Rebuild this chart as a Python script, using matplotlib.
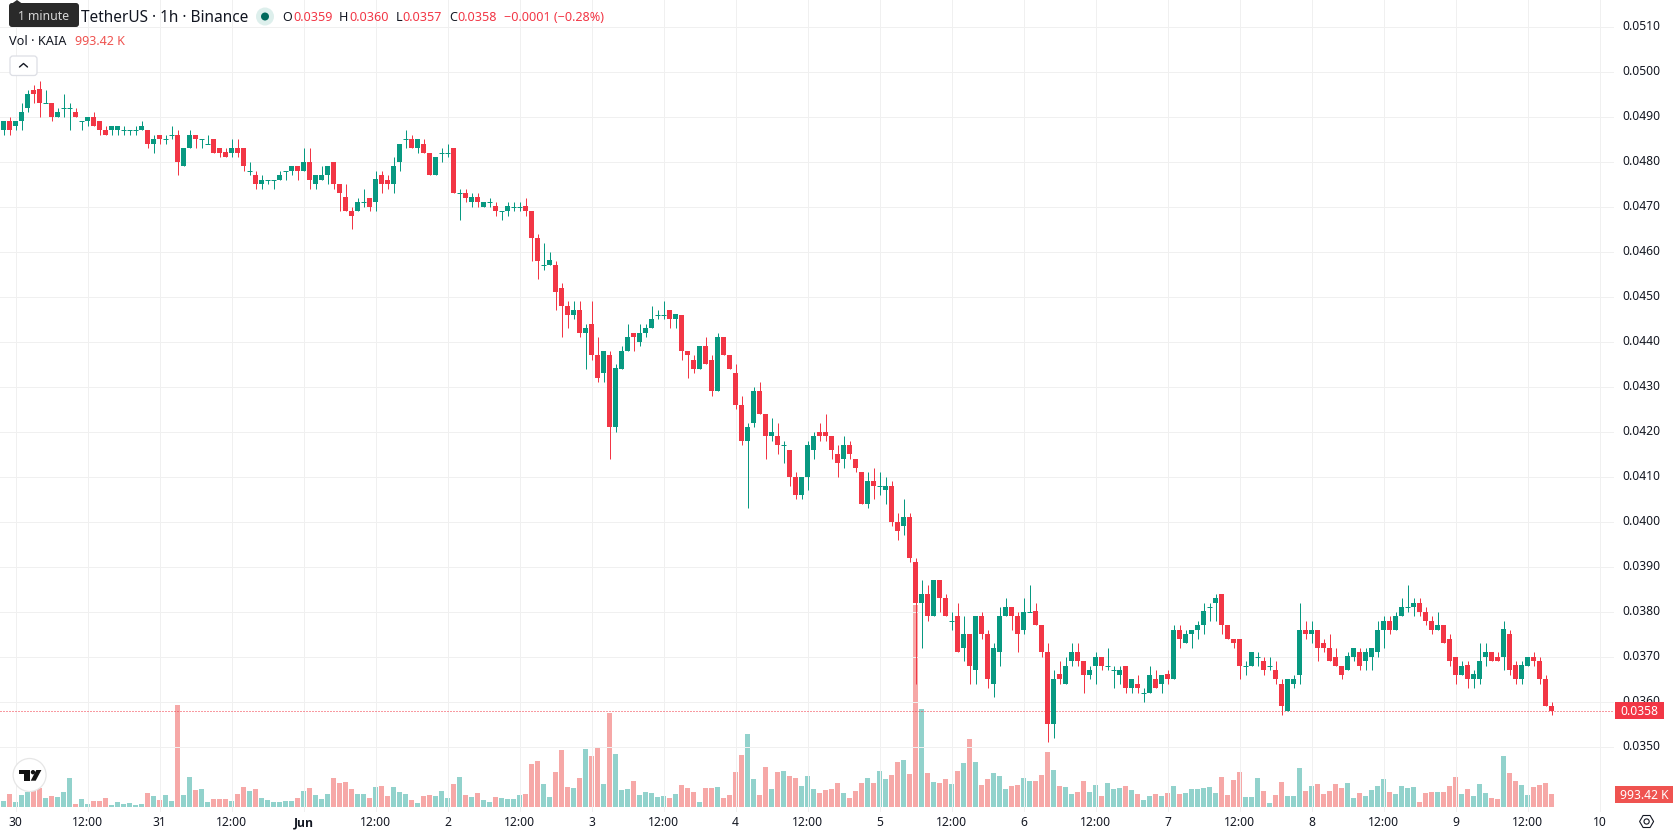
import matplotlib
matplotlib.use("Agg")
import matplotlib.pyplot as plt
from matplotlib.patches import Circle, FancyBboxPatch, Polygon, Rectangle

plt.rcParams["font.family"] = ["Noto Sans", "DejaVu Sans"]

# Hourly KAIA/USDT candles, prices in units of PRICE_TICK
PRICE_TICK = 0.0001
opens = [
    487,489,488,489,492,496,496,493,493,490, 492,492,491,489,489,490,489,487,487,487,
    487,487,487,487,487,484,486,485,486,486, 479,483,486,485,484,485,483,482,482,483,
    483,478,477,475,476,476,476,478,478,479, 478,480,475,476,477,480,475,472,469,469,
    471,472,471,477,476,475,480,485,485,483, 484,482,477,482,482,483,473,473,471,472,
    470,471,470,469,469,470,470,470,469,463, 457,457,457,452,448,446,447,442,444,437,
    433,437,421,434,438,442,440,442,443,446, 446,447,445,446,438,436,434,439,436,429,
    441,437,433,426,418,422,429,424,419,419, 417,416,410,406,410,416,420,420,419,415,
    414,417,414,411,404,409,408,407,408,400, 399,401,391,382,384,379,387,383,378,379,
    372,375,367,379,375,364,371,379,381,379, 376,380,380,377,371,355,366,364,369,371,
    369,366,368,370,368,367,366,368,363,364, 362,362,365,364,366,365,376,373,375,376,
    377,381,382,384,377,374,374,368,368,370, 369,368,367,364,358,364,366,376,375,376,
    373,372,370,368,367,370,371,369,370,371, 376,378,376,379,381,381,382,380,378,376,
    377,374,370,366,368,365,365,370,371,370, 370,375,368,365,368,370,369,365,359,
]
highs = [
    489,490,489,493,496,497,498,496,493,492, 495,493,492,489,490,491,489,488,488,488,
    488,487,488,489,487,486,486,486,488,487, 483,487,486,485,486,485,483,483,485,485,
    483,480,478,477,476,476,478,478,479,479, 483,483,477,479,479,480,475,475,470,472,
    474,472,478,478,477,481,484,487,486,485, 485,482,481,483,484,483,474,474,473,473,
    471,472,471,469,471,471,471,472,469,464, 462,460,458,453,449,449,449,444,449,441,
    438,438,435,439,444,442,444,444,448,447, 449,447,446,446,438,437,439,441,437,442,
    441,437,435,428,422,430,431,424,423,422, 418,416,411,410,418,420,422,424,419,417,
    419,418,414,411,411,412,411,410,409,402, 405,402,392,387,386,387,387,384,380,382,
    379,375,379,380,376,373,381,383,381,380, 383,386,382,377,373,367,369,370,373,373,
    369,368,371,370,372,368,368,368,365,366, 363,368,367,366,367,377,377,376,376,378,
    382,382,384,384,377,374,374,369,371,371, 370,370,369,365,365,366,382,378,378,376,
    374,375,372,368,371,372,372,372,372,378, 379,379,380,383,386,383,383,381,379,380,
    377,375,370,369,369,367,373,373,371,371, 378,376,369,369,370,371,370,366,360,
]
lows = [
    486,486,487,487,491,493,490,493,489,490, 490,487,490,487,488,488,486,486,486,486,
    486,486,486,487,483,482,484,484,485,477, 479,483,483,483,484,482,481,481,481,481,
    478,477,474,474,475,474,476,476,477,476, 478,474,474,476,475,474,469,469,465,469,
    470,469,469,473,474,473,478,483,483,482, 482,477,477,480,481,473,467,471,470,470,
    470,470,468,467,468,469,469,468,458,454, 456,457,447,441,443,445,441,434,436,431,
    431,414,420,434,438,438,439,441,443,445, 445,443,443,436,432,433,434,435,428,429,
    437,434,425,417,403,421,424,414,418,415, 413,408,405,405,407,414,418,418,414,410,
    412,414,411,404,403,405,406,404,399,396, 397,391,364,372,378,379,380,379,376,371,
    369,364,364,374,363,361,368,379,376,371, 375,380,377,370,351,352,364,364,368,368,
    362,365,364,367,367,363,364,362,362,362, 360,362,363,362,364,365,372,373,372,374,
    375,378,378,375,374,372,365,366,368,368, 366,367,364,357,358,363,364,374,373,369,
    371,369,368,365,367,369,367,367,367,370, 372,375,376,379,380,379,379,377,375,376,
    373,368,364,366,363,363,364,368,369,369, 367,366,364,364,368,368,364,359,357,
]
closes = [
    489,487,489,491,495,495,493,493,490,491, 492,492,490,489,490,488,487,486,488,488,
    487,487,487,488,484,485,485,485,486,480, 483,486,485,485,484,482,482,481,483,482,
    479,478,475,476,476,476,477,478,479,478, 480,476,477,477,479,475,473,469,468,471,
    471,470,476,475,475,479,484,485,483,485, 482,477,481,482,482,473,473,472,472,471,
    471,471,469,469,470,470,470,469,463,458, 457,458,451,448,446,447,442,443,437,432,
    438,421,434,438,441,441,442,443,445,446, 446,445,446,438,437,434,439,435,429,441,
    437,434,426,418,421,429,424,419,420,417, 417,410,406,410,417,419,419,419,416,413,
    417,415,412,404,409,408,408,408,400,398, 401,392,382,384,379,387,383,379,378,371,
    375,368,379,375,365,372,379,381,379,375, 380,380,377,371,355,365,365,368,371,369,
    366,367,370,368,368,367,367,363,365,363, 362,366,363,366,365,376,374,375,376,377,
    380,381,383,377,374,373,368,368,371,370, 367,368,365,359,365,365,376,375,376,372,
    372,369,368,366,370,372,368,371,372,376, 378,376,379,381,381,382,380,378,376,377,
    373,369,366,368,365,366,369,371,369,369, 376,367,365,368,370,369,365,359,358,
]
# Traded volume per hour, thousands of KAIA
volumes_k = [
    458,993,382,917,1146,1299,1452,688,840,764, 1146,2216,229,611,229,458,458,688,153,382,
    229,306,153,229,1070,840,535,917,458,7793, 917,2292,1299,1375,382,611,611,611,458,993,
    1528,1222,1375,688,535,382,382,458,458,688, 1222,1452,917,611,993,2216,1834,1910,1375,993,
    993,688,1528,1604,840,1528,1146,993,535,306, 840,917,840,1222,688,1757,2292,917,764,1070,
    535,382,764,688,611,611,917,993,3285,3514, 1757,764,2674,4355,1528,1452,2216,4431,3896,4508,
    1757,7182,4049,1299,1375,1986,917,1146,1070,764, 840,688,993,1681,1452,1146,382,1452,1452,1528,
    688,917,2674,3973,5577,2139,917,3056,1375,2674, 2750,2368,2216,1604,2368,1375,1070,1299,1375,1834,
    1070,688,1222,1834,2216,1834,2750,2139,2445,3438, 3591,2521,15433,7487,2598,1910,1834,2139,1757,2750,
    3362,5195,3438,1681,2139,2598,2368,1375,1604,1681, 2216,1986,1986,2445,4202,2827,1604,1528,993,1146,
    1986,1146,1681,840,1834,1375,1452,1604,1299,993, 535,840,993,840,1070,1604,993,1070,1375,1375,
    1452,1528,1070,2292,917,2063,2674,764,764,2216, 1222,306,917,1910,840,840,2980,1222,1604,1757,
    993,1222,1757,1452,1834,688,1070,840,1299,1604, 2139,1146,993,1604,1452,1528,382,1070,1146,1146,
    1146,1604,2292,993,1375,840,1757,1070,688,611, 3896,2598,1986,1681,917,1528,1681,1834,993.42,
]
# Time axis: one tick every twelve candles, starting at candle 2
first_tick = 2
tick_every = 12
time_labels = ["30", "12:00", "31", "12:00", "Jun", "12:00", "2", "12:00", "3", "12:00", "4", "12:00",
               "5", "12:00", "6", "12:00", "7", "12:00", "8", "12:00", "9", "12:00", "10"]
price_ticks = [0.0350, 0.0360, 0.0370, 0.0380, 0.0390, 0.0400, 0.0410, 0.0420, 0.0430,
               0.0440, 0.0450, 0.0460, 0.0470, 0.0480, 0.0490, 0.0500, 0.0510]
last_price = 0.0358

UP = "#089981"
DOWN = "#F23645"
VOL_UP = "#26A69A"
VOL_DOWN = "#EF5350"
INK = "#131722"
GRID = "#F0F0F0"

W, H = 1678, 835
PANE_RIGHT, PANE_BOTTOM = 1614, 812
PX = 72 / 100  # one pixel in points

fig = plt.figure(figsize=(W / 100, H / 100), dpi=100, facecolor="white")
rect = [0, (H - PANE_BOTTOM) / H, PANE_RIGHT / W, PANE_BOTTOM / H]

# Volume pane sits behind the candles and shares the same time scale
ax_vol = fig.add_axes(rect, zorder=1)
ax = fig.add_axes(rect, zorder=2)
ax.patch.set_visible(False)

xs = list(range(len(closes)))
is_up = [c >= o for o, c in zip(opens, closes)]
xlim = (-3.5 / 6, (PANE_RIGHT - 3.5) / 6)

ax_vol.bar(xs, volumes_k, width=5 / 6, linewidth=0,
           color=[VOL_UP if u else VOL_DOWN for u in is_up], alpha=0.5)
ax_vol.set_xlim(xlim)
ax_vol.set_ylim(-5 * 76.42, 807 * 76.42)
ax_vol.axis("off")

colors = [UP if u else DOWN for u in is_up]
ax.vlines(xs, [v * PRICE_TICK for v in lows], [v * PRICE_TICK for v in highs],
          colors=colors, linewidth=PX, zorder=3)
body_low = [min(o, c) * PRICE_TICK for o, c in zip(opens, closes)]
body_h = [abs(o - c) * PRICE_TICK for o, c in zip(opens, closes)]
ax.bar(xs, body_h, bottom=body_low, width=5 / 6, color=colors, linewidth=0, zorder=4)
flat = [i for i in xs if opens[i] == closes[i]]
ax.hlines([closes[i] * PRICE_TICK for i in flat], [i - 2.5 / 6 for i in flat], [i + 2.5 / 6 for i in flat],
          colors=[colors[i] for i in flat], linewidth=PX, zorder=4)

ax.axhline(last_price, color=DOWN, linewidth=PX, linestyle=(0, (1, 2)), zorder=2)

ax.set_xlim(xlim)
ax.set_ylim(0.0350 - 65.5 / 45000, 0.0350 + 746.5 / 45000)
ax.set_xticks([first_tick + tick_every * k for k in range(len(time_labels))], time_labels)
ax.set_yticks(price_ticks, [f"{p:.4f}" for p in price_ticks])
ax.yaxis.tick_right()
ax.tick_params(axis="both", length=0, labelsize=8.7, labelcolor=INK)
ax.tick_params(axis="x", pad=3.2)
ax.tick_params(axis="y", pad=5.8)
for lab in ax.get_yticklabels():
    lab.set_verticalalignment("center")
for lab in ax.get_xticklabels():
    if lab.get_text() == "Jun":
        lab.set_family("Open Sans")
        lab.set_fontweight("bold")
ax.grid(True, color=GRID, linewidth=PX, zorder=0)
ax.set_axisbelow(True)
for s in ax.spines.values():
    s.set_visible(False)

# Chart furniture placed in pixel coordinates
ui = fig.add_axes([0, 0, 1, 1], zorder=5)
ui.set_xlim(0, W)
ui.set_ylim(H, 0)
ui.axis("off")
ui.patch.set_visible(False)


def label(x, y, s, color=INK, size=8.7, ha="left", **kw):
    # y is the visual centre of the digits; anchoring on the baseline keeps rows level
    ui.text(x, y + size * 0.5, s, color=color, fontsize=size, ha=ha, va="baseline", **kw)


# Tooltip over the symbol name
ui.add_patch(FancyBboxPatch((11, 5), 66, 20, boxstyle="round,pad=2,rounding_size=3",
                            fc="#2A2A2A", ec="none"))
ui.add_patch(Polygon([(12, 3.5), (17, 0), (22, 3.5)], fc="#2A2A2A", ec="none"))
label(44, 15.5, "1 minute", color="#D6D6D6", size=8.8, ha="center")

label(81, 16.5, "TetherUS · 1h · Binance", size=11.1)
ui.add_patch(Circle((265, 16.5), 9, fc="#DDEFEC", ec="none"))
ui.add_patch(Circle((265, 16.5), 4, fc="#00695C", ec="none"))

for x, s, col in [(282, "O", INK), (293, "0.0359", DOWN), (339, "H", INK), (349, "0.0360", DOWN),
                  (395.5, "L", INK), (402, "0.0357", DOWN), (449, "C", INK), (457, "0.0358", DOWN),
                  (504, "−0.0001 (−0.28%)", DOWN)]:
    label(x, 16.5, s, color=col, size=9.05)

label(9, 40.5, "Vol · KAIA", size=9.2)
label(75, 40.5, "993.42 K", color=VOL_DOWN, size=9)

# Collapse button
ui.add_patch(FancyBboxPatch((10.5, 56.5), 26, 18.5, boxstyle="round,pad=0.5,rounding_size=3",
                            fc="white", ec="#DDDFE5", lw=0.9))
ui.plot([19.5, 23.5, 27.5], [67, 63.5, 67], color=INK, lw=1.0, solid_capstyle="round")

# Last price and last volume tags
ui.add_patch(Rectangle((1615, 702), 49, 17, fc=DOWN, ec="none"))
label(1639.5, 710.3, "0.0358", color="white", ha="center")
ui.add_patch(Rectangle((1615, 786), 58, 17, fc=VOL_DOWN, ec="none"))
label(1644, 794.3, "993.42 K", color="white", ha="center")

# Scale settings glyph
cx, cy = 1646.6, 821.5
ui.add_patch(Polygon([(cx - 7, cy), (cx - 3.5, cy - 6), (cx + 3.5, cy - 6), (cx + 7, cy),
                      (cx + 3.5, cy + 6), (cx - 3.5, cy + 6)], closed=True, fc="none", ec=INK, lw=0.8))
ui.add_patch(Circle((cx, cy), 2.6, fc="none", ec=INK, lw=0.8))

# Brand badge
ui.add_patch(Circle((29.6, 775), 16.5, fc="white", ec="#E6E6E6", lw=0.9))
ui.add_patch(Polygon([(18.6, 770), (30.4, 770), (30.4, 780.7), (23.6, 780.7), (23.6, 774.3), (18.6, 774.3)],
                     fc="#111111", ec="none"))
ui.add_patch(Circle((33, 772.2), 2.2, fc="#111111", ec="none"))
ui.add_patch(Polygon([(36.3, 770), (41.4, 770), (35.7, 780.7), (30.7, 780.7)], fc="#111111", ec="none"))

fig.savefig("out.png", dpi=100, facecolor="white")
